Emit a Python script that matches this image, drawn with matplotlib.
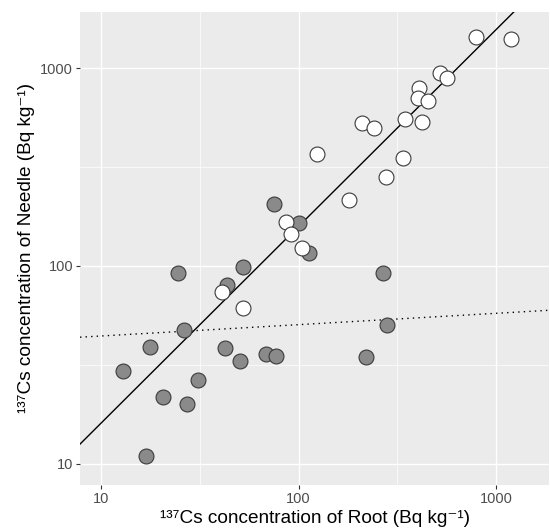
import matplotlib
matplotlib.use("Agg")
import matplotlib.pyplot as plt
import numpy as np
from matplotlib.ticker import FixedLocator, NullFormatter

# 137Cs concentrations (Bq kg-1)
root_grey = [24.4, 52.4, 43.5, 26.4, 17.7, 12.9, 42.3, 50.3, 68.1, 76.5,
             30.9, 20.5, 27.2, 16.8, 268.5, 279, 220, 75.0, 100, 112.4]
needle_grey = [91.9, 98.3, 80.2, 47.3, 39.1, 29.4, 38.4, 33.3, 35.9, 35.1,
               26.7, 21.7, 20.1, 11.0, 92.5, 50.1, 34.7, 205, 164.5, 116.7]

root_white = [41.2, 52.4, 86.7, 91.2, 104.5, 179, 123.3, 276, 336.5, 209,
              240, 346.7, 419.5, 405.5, 400.8, 450, 517.6, 561, 792, 1191]
needle_white = [73.6, 61.1, 167.5, 144.6, 122.7, 214.8, 368, 282.6, 349.9, 529.7,
                495.5, 552, 533, 788, 703.5, 681, 940, 895, 1438, 1400]

# log-log fits: log10(y) = intercept + slope * log10(x)
fit_solid = (0.212, 0.994)
fit_dotted = (1.589, 0.0573)

x_lim = (7.83, 1853)
y_lim = (7.83, 1918)

fonts = ["Liberation Sans", "DejaVu Sans"]
plt.rcParams["font.family"] = fonts

fig = plt.figure(figsize=(5.5, 5.29), dpi=100)
ax = fig.add_axes([0.1455, 0.0832, 0.8527, 0.8941])
ax.set_facecolor("#EBEBEB")
ax.set_xscale("log")
ax.set_yscale("log")
ax.set_xlim(*x_lim)
ax.set_ylim(*y_lim)

major = [10, 100, 1000]
minor = [10 ** 1.5, 10 ** 2.5]
for a in (ax.xaxis, ax.yaxis):
    a.set_major_locator(FixedLocator(major))
    a.set_minor_locator(FixedLocator(minor))
    a.set_minor_formatter(NullFormatter())
ax.set_xticklabels([str(v) for v in major])
ax.set_yticklabels([str(v) for v in major])

ax.grid(which="major", color="white", lw=1.0)
ax.grid(which="minor", color="white", lw=0.5)
ax.set_axisbelow(True)
for s in ax.spines.values():
    s.set_visible(False)
ax.tick_params(which="major", length=3, width=0.8, color="#333333",
               labelcolor="#4D4D4D", labelsize=10.5, pad=2)
ax.tick_params(which="minor", length=0)

xs = np.logspace(np.log10(x_lim[0]), np.log10(x_lim[1]), 50)
for (b0, b1), ls in ((fit_solid, "-"), (fit_dotted, (0, (1, 3)))):
    ax.plot(xs, 10 ** (b0 + b1 * np.log10(xs)), color="black", lw=1.0, ls=ls, zorder=2)

ax.scatter(root_grey, needle_grey, s=115, facecolor="#8A8A8A", edgecolor="#3A3A3A",
           linewidths=0.8, zorder=3)
ax.scatter(root_white, needle_white, s=115, facecolor="white", edgecolor="#3A3A3A",
           linewidths=0.8, zorder=3)

ax.set_xlabel("¹³⁷Cs concentration of Root (Bq kg⁻¹)", fontsize=13.7,
              family=fonts, labelpad=3)
ax.set_ylabel("¹³⁷Cs concentration of Needle (Bq kg⁻¹)", fontsize=13.7,
              family=fonts, labelpad=4)

fig.savefig("out.png", dpi=100)
